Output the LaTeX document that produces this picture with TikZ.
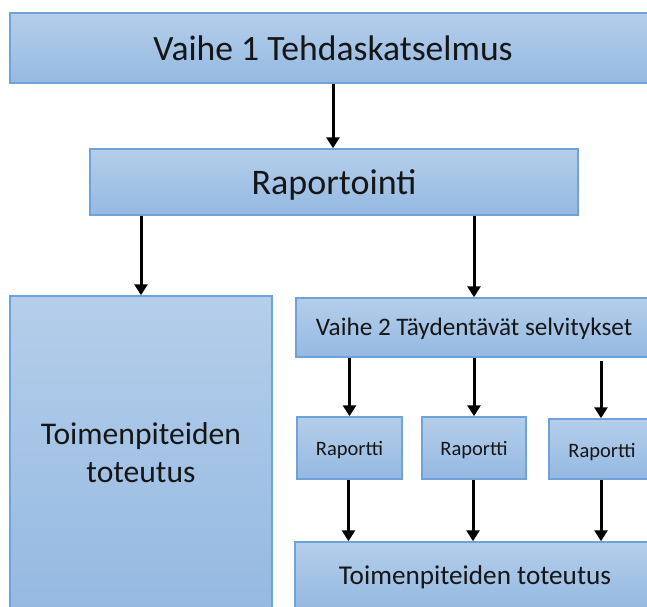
\documentclass[tikz,border=0pt]{standalone}
\usepackage{fontspec}
\setmainfont{Carlito}
\usetikzlibrary{arrows.meta}
\definecolor{boxtop}{HTML}{B4CEEA}
\definecolor{boxbot}{HTML}{95B9E2}
\definecolor{boxline}{HTML}{6FA2D8}
\definecolor{ink}{HTML}{161616}
\newcommand\tsize[2]{\fontsize{#1}{#2}\selectfont}
\tikzset{
  box/.style={rectangle, draw=boxline, line width=1.5pt, top color=boxtop,
    bottom color=boxbot, inner sep=0pt, text=ink, align=center},
  arr/.style={draw=black, line width=3pt,
    -{Triangle[width=13pt,length=11pt]}}
}
\begin{document}
\begin{tikzpicture}[x=1pt,y=1pt]
\useasboundingbox (0,0) rectangle (647,-606);
% Phase 1 and reporting
\node[box, minimum width=646, minimum height=70, text height=24pt, text depth=0pt,
  font=\tsize{35.6}{43}] (top) at (333,-48) {Vaihe 1 Tehdaskatselmus};
\node[box, minimum width=488, minimum height=66, text height=24pt, text depth=0pt,
  font=\tsize{36}{44}] (rap) at (334,-182) {Raportointi};
% Left branch: direct implementation
\node[box, minimum width=262, minimum height=314,
  font=\tsize{31.6}{38}] (left) at (141,-453) {Toimenpiteiden\\toteutus};
% Right branch: phase 2 studies
\node[box, minimum width=356, minimum height=59, text height=16pt, text depth=0pt,
  font=\tsize{25.2}{31}] (v2) at (474,-327.5) {Vaihe 2 Täydentävät selvitykset};
\node[box, minimum width=105, minimum height=62, text height=14pt, text depth=0pt,
  font=\tsize{20.5}{25}] (r1) at (349.5,-448) {Raportti};
\node[box, minimum width=104, minimum height=62, text height=14pt, text depth=0pt,
  font=\tsize{20.5}{25}] (r2) at (474,-448) {Raportti};
\node[box, minimum width=106, minimum height=60, text height=16pt, text depth=0pt,
  font=\tsize{20.5}{25}] (r3) at (602,-449) {Raportti};
\node[box, minimum width=360, minimum height=67, text height=17pt, text depth=0pt,
  font=\tsize{27.2}{33}] (bot) at (475,-575.5) {Toimenpiteiden toteutus};
% Connectors
\draw[arr] (top.south) -- (top.south |- rap.north);
\draw[arr] (rap.south -| left.north) -- (left.north);
\draw[arr] (rap.south -| v2.north) -- (v2.north);
\draw[arr] (v2.south -| r1.north) -- (r1.north);
\draw[arr] (v2.south -| r2.north) -- (r2.north);
\draw[arr, shorten <=3pt] ([xshift=-1pt]v2.south -| r3.north) -- ([xshift=-1pt]r3.north);
\draw[arr] ([xshift=-1pt]r1.south) -- ([xshift=-1pt]r1.south |- bot.north);
\draw[arr] ([xshift=-1pt]r2.south) -- ([xshift=-1pt]r2.south |- bot.north);
\draw[arr] ([xshift=-1pt]r3.south) -- ([xshift=-1pt]r3.south |- bot.north);
\end{tikzpicture}
\end{document}
